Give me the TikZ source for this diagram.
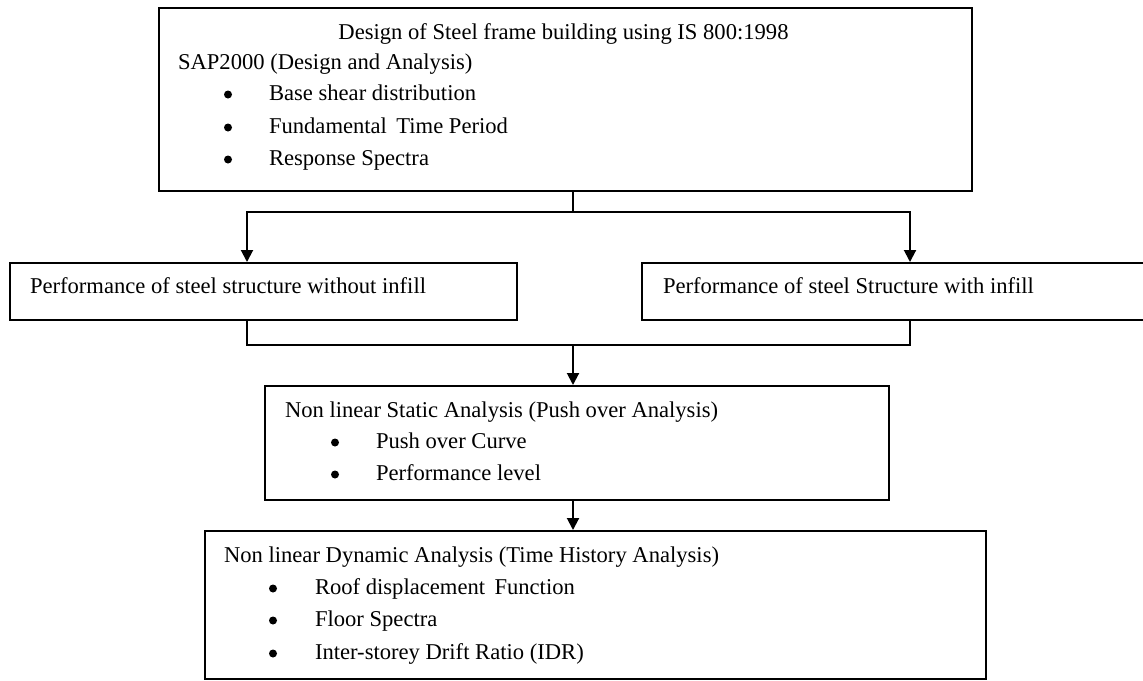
\documentclass[tikz,border=0pt]{standalone}
\usepackage{fontspec}
\setmainfont{Liberation Serif}
\usetikzlibrary{arrows.meta}

\def\px{0.5pt}
\def\kasten#1#2#3#4#5{
	\node[kasten, minimum width={(#4-#2)*\px}, minimum height={(#5-#3)*\px}] (#1) at ({(#2+#4)/2},{(#3+#5)/2}) {};
}
\def\punkt#1#2#3#4#5{
	\node[dot] (#1b) at (#2,{#4-5.5}) {};
	\node[txt, anchor=base west] (#1) at (#3,#4) {#5};
}

\begin{document}
\begin{tikzpicture}[x=\px,y=-\px,>={Triangle[length=6pt,width=6pt]},line width=1pt,
	kasten/.style={draw,inner sep=0},
	dot/.style={circle,fill,inner sep=0,minimum size=8*\px},
	txt/.style={inner sep=0,font=\fontsize{11.3}{13}\selectfont}]
\useasboundingbox (0,0) rectangle (1143,680);

\kasten{frame}{159}{8}{972}{191}
\kasten{bare}{10}{263}{517}{320}
\kasten{infill}{642}{263}{1150}{320}
\kasten{static}{265}{386}{889}{500}
\kasten{dynamic}{205}{531}{986}{679}

\node[txt, anchor=base] (titel) at (563.5,39) {Design of Steel frame building using IS 800:1998};
\node[txt, anchor=base west] (sap) at (177,69) {SAP2000 (Design and Analysis)};
\punkt{shear}{228}{268}{100}{Base shear distribution}
\punkt{period}{228}{268}{133}{Fundamental\, Time Period}
\punkt{spectra}{228}{268}{165}{Response Spectra}

\node[txt, anchor=base west] (baretxt) at (29,293) {Performance of steel structure without infill};
\node[txt, anchor=base west] (infilltxt) at (662,293) {Performance of steel Structure with infill};

\node[txt, anchor=base west] (nlsa) at (284,417) {Non linear Static Analysis (Push over Analysis)};
\punkt{curve}{335}{375}{448}{Push over Curve}
\punkt{level}{335}{375}{480}{Performance level}

\node[txt, anchor=base west] (nlda) at (223,562) {Non linear Dynamic Analysis (Time History Analysis)};
\punkt{roof}{273}{314}{594}{Roof displacement\, Function}
\punkt{floor}{273}{314}{626}{Floor Spectra}
\punkt{idr}{273}{314}{659}{Inter-storey Drift Ratio (IDR)}

\coordinate (split) at (573,212);
\coordinate (links) at (247,212);
\coordinate (rechts) at (910,212);
\coordinate (join) at (573,345);

\draw (frame.south -| split) -- (split);
\draw[->] (split) -- (links) -- (bare.north -| links);
\draw[->] (split) -- (rechts) -- (infill.north -| rechts);
\draw (bare.south -| links) |- (join);
\draw (infill.south -| rechts) |- (join);
\draw[->] (join) -- (static.north -| join);
\draw[->] (static.south -| join) -- (dynamic.north -| join);
\end{tikzpicture}
\end{document}
